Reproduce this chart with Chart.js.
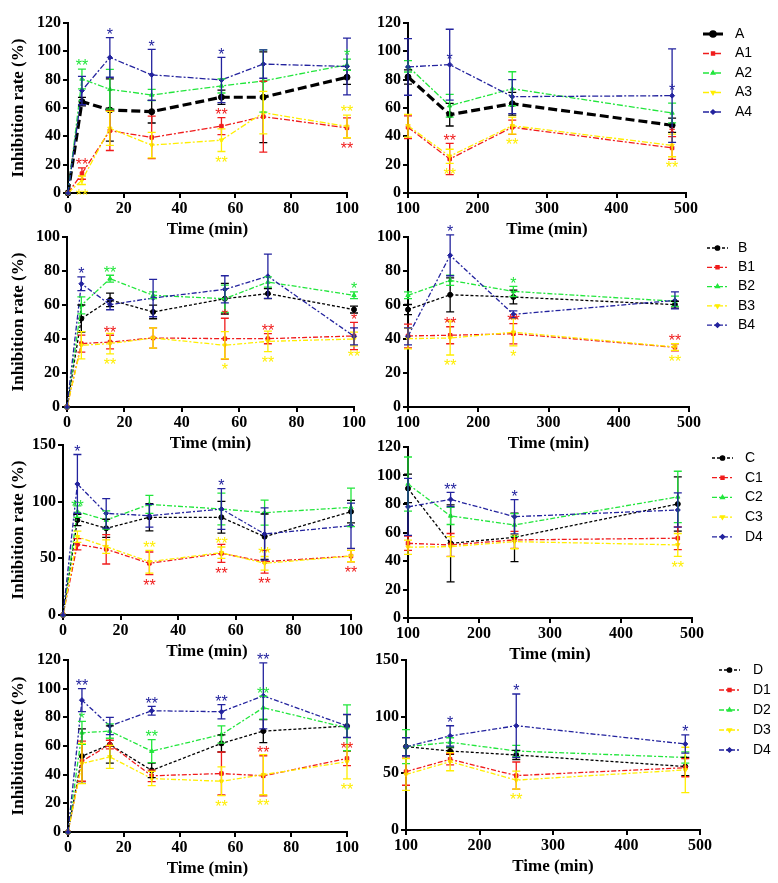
<!DOCTYPE html>
<html><head><meta charset="utf-8">
<script src="https://cdn.jsdelivr.net/npm/chart.js@4"></script>
<style>
html,body{margin:0;padding:0;background:#fff;}
#wrap{position:relative;width:778px;height:883px;overflow:hidden;background:#fff;}
#wrap canvas{position:absolute;}
</style></head><body><div id="wrap"></div>
<script>
// ---------- DATA ----------
const timeLeft = [0, 5, 15, 30, 55, 70, 100];
const timeRight = [100, 160, 250, 480];

const namesA = ['A', 'A1', 'A2', 'A3', 'A4'];
const namesB = ['B', 'B1', 'B2', 'B3', 'B4'];
const namesC = ['C', 'C1', 'C2', 'C3', 'D4'];
const namesD = ['D', 'D1', 'D2', 'D3', 'D4'];

// Panel A (0-100 min)
const aLeftMean = [
  [0, 64.5, 58.6, 57.4, 67.6, 67.6, 81.7],
  [0, 13.7, 44, 39.2, 47.2, 53.9, 46],
  [0, 80.5, 73.2, 69.2, 75.6, 79.1, 90.5],
  [0, 9, 45.6, 33.8, 37.3, 56.7, 47],
  [0, 72.3, 95.7, 83.4, 79.8, 91, 89.3]];
const aLeftSd = [
  [0, 3, 22, 8, 5, 32, 5],
  [0, 4, 14, 15, 6, 25, 7],
  [0, 7, 14, 4, 5, 22, 4],
  [0, 3, 12, 9, 8, 15, 8],
  [0, 10, 14, 18, 16, 10, 20]];
const aLeftSig = [
  ['', '', '', '', '', '', ''],
  ['', '^**', '', '', '^**', '', 'v**'],
  ['', '^**', '', '', '', '', '^*'],
  ['', 'v**', '', '', 'v**', '', '^**'],
  ['', '', '^*', '^*', '^*', '', '']];
// Panel A (100-480 min)
const aRightMean = [
  [81.9, 55.3, 63, 47.8],
  [46.4, 24, 46.4, 31.8],
  [89.4, 61.6, 73.6, 56.5],
  [47.5, 25.9, 47.5, 33.6],
  [89, 90.6, 68, 68.7]];
const aRightSd = [
  [5, 8, 8, 5],
  [8, 11, 5, 8],
  [4, 8, 12, 7],
  [8, 5, 6, 8],
  [20, 25, 12, 33]];
const aRightSig = [
  ['', '', '', ''],
  ['', '^**', '', '^*'],
  ['', '', '', ''],
  ['', 'v**', 'v**', 'v**'],
  ['', '=*', '', '=*']];

// Panel B
const bLeftMean = [
  [0, 52, 63, 55.9, 63.7, 66.7, 57.3],
  [0, 37.3, 38.2, 40.6, 40.2, 40.2, 41.8],
  [0, 59.8, 75.5, 65.7, 63.7, 73.5, 65.7],
  [0, 36.3, 37.3, 40.6, 36.3, 38.6, 40],
  [0, 72.5, 60.2, 64.1, 69.2, 76.9, 41.6]];
const bLeftSd = [
  [0, 8, 4, 4, 9, 3, 2],
  [0, 5, 4, 6, 12, 3, 8],
  [0, 5, 2, 2, 8, 3, 2],
  [0, 8, 6, 6, 8, 6, 4],
  [0, 4, 3, 11, 8, 13, 5]];
const bLeftSig = [
  ['', '', '', '', '', '', ''],
  ['', '', '^**', '', '^*', '^**', '^*'],
  ['', '', '^**', '', '', '', '^*'],
  ['', '', 'v**', '', 'v*', 'v**', 'v**'],
  ['', '^*', '', '', '', '', '']];
const bRightMean = [
  [57.3, 66, 64.7, 60.2],
  [41.8, 42.2, 43.1, 35.1],
  [65.7, 74.5, 68, 62.2],
  [40.2, 40.6, 44, 35.3],
  [41.6, 89.2, 54.5, 62.7]];
const bRightSd = [
  [3, 10, 4, 2],
  [7, 5, 6, 2],
  [2, 3, 3, 3],
  [6, 10, 8, 2],
  [5, 12, 2, 5]];
const bRightSig = [
  ['', '', '', ''],
  ['', '^**', '^**', '^**'],
  ['', '', '^*', ''],
  ['', 'v**', 'v*', 'v**'],
  ['', '^*', '', '']];

// Panel C
const cLeftMean = [
  [0, 83.8, 76.5, 86.2, 86.2, 69.1, 91.2],
  [0, 62.4, 58, 45.6, 54.4, 47, 52],
  [0, 91.2, 83.8, 97.6, 93.5, 90.3, 95],
  [0, 69, 60.3, 47, 55, 45.6, 52],
  [0, 115.6, 89.7, 87.6, 93.5, 71.5, 78.8]];
const cLeftSd = [
  [0, 5, 8, 12, 14, 20, 10],
  [0, 5, 13, 10, 8, 10, 5],
  [0, 5, 8, 8, 14, 11, 17],
  [0, 5, 6, 10, 5, 6, 5],
  [0, 26, 13, 10, 18, 23, 20]];
const cLeftSig = [
  ['', '', '', '', '', '', ''],
  ['', '', '', 'v**', 'v**', 'v**', 'v**'],
  ['', '=**', '', '', '', '', ''],
  ['', '', '', '^**', '^**', '^**', ''],
  ['', '^*', '', '', '^*', '', '']];
const cRightMean = [
  [90.9, 52.4, 56.6, 80],
  [52.4, 51.3, 54.8, 56],
  [94, 71.6, 65.3, 85],
  [49.7, 50.1, 53.6, 51.3],
  [78, 83.2, 71.1, 75.8]];
const cRightSd = [
  [10, 27, 17, 19],
  [5, 8, 6, 8],
  [19, 6, 8, 18],
  [5, 7, 5, 8],
  [20, 5, 12, 12]];
const cRightSig = [
  ['', '', '', ''],
  ['', '', '', ''],
  ['', '', '', ''],
  ['', '', '', 'v**'],
  ['', '^**', '^*', '']];

// Panel D
const dLeftMean = [
  [0, 52.9, 61, 43, 61.8, 70.4, 73.9],
  [0, 49.4, 61, 39.2, 40.8, 39.2, 51.3],
  [0, 69.2, 70.4, 56.4, 68, 86.7, 72.7],
  [0, 47.8, 52.4, 37.3, 35.4, 40, 49],
  [0, 92, 74, 84.6, 83.9, 95, 74]];
const dLeftSd = [
  [0, 19, 13, 5, 6, 8, 8],
  [0, 14, 3, 4, 15, 14, 5],
  [0, 8, 5, 8, 6, 8, 16],
  [0, 14, 8, 5, 10, 14, 12],
  [0, 8, 6, 3, 5, 23, 8]];
const dLeftSig = [
  ['', '', '', '', '', '', ''],
  ['', '', '', '', '', '^**', '^**'],
  ['', '^*', '', '^**', '', '^**', ''],
  ['', '', '', '', 'v**', 'v**', 'v**'],
  ['', '^**', '', '^**', '^**', '^**', '']];
const dRightMean = [
  [73.5, 69.7, 66.2, 56],
  [51.5, 62.4, 48, 55],
  [73.5, 77.4, 69.7, 64],
  [49, 60.3, 44, 53],
  [73.5, 83, 92, 75.9]];
const dRightSd = [
  [8, 3, 4, 8],
  [12, 5, 12, 8],
  [15, 4, 5, 5],
  [14, 8, 8, 20],
  [8, 9, 28, 8]];
const dRightSig = [
  ['', '', '', ''],
  ['', '', '', ''],
  ['', '', '', ''],
  ['', '', 'v**', ''],
  ['', '^*', '^*', '^*']];

// ---------- STYLE / LAYOUT ----------
const colors = ['#000000', '#f01c1c', '#22e63c', '#ffee00', '#23239e'];
const pStyles = ['circle', 'rect', 'triangle', 'triangle', 'rectRot'];
const pRot = [0, 0, 0, 180, 0];
const serif = '"Liberation Serif", "Times New Roman", serif';
const sans = '"Liberation Sans", Arial, sans-serif';

const panels = [
  {names: namesA, t: timeLeft, mean: aLeftMean, sd: aLeftSd, sig: aLeftSig, area: [68, 23, 347, 193], xr: [0, 100, 20], yr: [0, 120, 20], left: true, row: 0},
  {names: namesA, t: timeRight, mean: aRightMean, sd: aRightSd, sig: aRightSig, area: [408, 23, 686, 193], xr: [100, 500, 100], yr: [0, 120, 20], left: false, row: 0, legend: {x0: 703, x1: 723, tx: 735, y0: 34, dy: 19.5}},
  {names: namesB, t: timeLeft, mean: bLeftMean, sd: bLeftSd, sig: bLeftSig, area: [67, 237, 354, 407], xr: [0, 100, 20], yr: [0, 100, 20], left: true, row: 1},
  {names: namesB, t: timeRight, mean: bRightMean, sd: bRightSd, sig: bRightSig, area: [408, 237, 689, 407], xr: [100, 500, 100], yr: [0, 100, 20], left: false, row: 1, legend: {x0: 707, x1: 728, tx: 738, y0: 248, dy: 19.3}},
  {names: namesC, t: timeLeft, mean: cLeftMean, sd: cLeftSd, sig: cLeftSig, area: [63, 445, 351, 615], xr: [0, 100, 20], yr: [0, 150, 50], left: true, row: 2},
  {names: namesC, t: timeRight, mean: cRightMean, sd: cRightSd, sig: cRightSig, area: [408, 447, 692, 618], xr: [100, 500, 100], yr: [0, 120, 20], left: false, row: 2, legend: {x0: 712, x1: 733, tx: 745, y0: 458, dy: 19.7}},
  {names: namesD, t: timeLeft, mean: dLeftMean, sd: dLeftSd, sig: dLeftSig, area: [68, 660, 347, 832], xr: [0, 100, 20], yr: [0, 120, 20], left: true, row: 3},
  {names: namesD, t: timeRight, mean: dRightMean, sd: dRightSd, sig: dRightSig, area: [406, 660, 700, 830], xr: [100, 500, 100], yr: [0, 150, 50], left: false, row: 3, legend: {x0: 719, x1: 740, tx: 753, y0: 670, dy: 20}}
];

function dashFor(row, i) {
  if (row === 0) return i === 0 ? [9, 4] : [6, 2, 2, 2];
  return i === 0 ? [3, 2] : [5, 2, 2, 2];
}
function widthFor(row, i) { return (row === 0 && i === 0) ? 3.2 : 1.3; }

// ---------- PLUGINS ----------
const errorBarPlugin = {
  id: 'errbars',
  afterDatasetsDraw(chart) {
    const ctx = chart.ctx, xs = chart.scales.x, ys = chart.scales.y;
    chart.data.datasets.forEach((ds) => {
      ctx.save();
      ctx.strokeStyle = ds.borderColor;
      ctx.lineWidth = 1.3;
      ctx.setLineDash([]);
      ds.data.forEach((pt, j) => {
        const s = ds.sd[j];
        if (!s) return;
        const px = xs.getPixelForValue(pt.x);
        const yt = ys.getPixelForValue(pt.y + s), yb = ys.getPixelForValue(pt.y - s);
        ctx.beginPath();
        ctx.moveTo(px, yt); ctx.lineTo(px, yb);
        ctx.moveTo(px - 4, yt); ctx.lineTo(px + 4, yt);
        ctx.moveTo(px - 4, yb); ctx.lineTo(px + 4, yb);
        ctx.stroke();
      });
      ctx.restore();
    });
  }
};

const sigPlugin = {
  id: 'sigmarks',
  afterDatasetsDraw(chart) {
    const ctx = chart.ctx, xs = chart.scales.x, ys = chart.scales.y;
    const fs = 16;
    chart.data.datasets.forEach((ds) => {
      ctx.save();
      ctx.fillStyle = ds.borderColor;
      ctx.font = fs + 'px ' + sans;
      ctx.textAlign = 'center';
      ctx.textBaseline = 'alphabetic';
      ds.data.forEach((pt, j) => {
        const code = ds.sig[j];
        if (!code) return;
        const dir = code[0], txt = code.slice(1);
        const s = ds.sd[j] || 0;
        const px = xs.getPixelForValue(pt.x);
        let yc;
        if (dir === '^') yc = ys.getPixelForValue(pt.y + s) - 7;
        else if (dir === 'v') yc = ys.getPixelForValue(pt.y - s) + 7;
        else yc = ys.getPixelForValue(pt.y) - 9;
        ctx.fillText(txt, px, yc + 0.58 * fs);
      });
      ctx.restore();
    });
  }
};

const legendPlugin = {
  id: 'sideLegend',
  afterDraw(chart, args, opts) {
    const lg = opts && opts.pos;
    if (!lg) return;
    const ctx = chart.ctx;
    const offX = opts.offX, offY = opts.offY;
    chart.data.datasets.forEach((ds, i) => {
      const y = lg.y0 + i * lg.dy - offY;
      const x0 = lg.x0 - offX, x1 = lg.x1 - offX;
      ctx.save();
      ctx.strokeStyle = ds.borderColor;
      ctx.lineWidth = ds.borderWidth;
      ctx.setLineDash(ds.borderDash);
      ctx.beginPath(); ctx.moveTo(x0, y); ctx.lineTo(x1, y); ctx.stroke();
      ctx.setLineDash([]);
      ctx.fillStyle = ds.borderColor;
      Chart.helpers.drawPoint(ctx, {pointStyle: ds.pointStyle, rotation: ds.pointRotation, radius: 2.2, borderWidth: 1}, (x0 + x1) / 2, y);
      ctx.fillStyle = '#000';
      ctx.font = '14px ' + sans;
      ctx.textAlign = 'left';
      ctx.textBaseline = 'middle';
      ctx.fillText(ds.label, lg.tx - offX, y);
      ctx.restore();
    });
  }
};

// ---------- BUILD ----------
const wrap = document.getElementById('wrap');
panels.forEach((p) => {
  const yW = p.left ? p.area[0] : 40;
  const padTop = 12, xH = 47;
  const cLeft = p.area[0] - yW;
  const cTop = p.area[1] - padTop;
  const cRight = p.left ? p.area[2] + 16 : 778;
  const padRight = cRight - p.area[2];
  const w = cRight - cLeft, h = p.area[3] + xH - cTop;
  const cv = document.createElement('canvas');
  cv.width = w; cv.height = h;
  cv.style.left = cLeft + 'px'; cv.style.top = cTop + 'px';
  cv.style.width = w + 'px'; cv.style.height = h + 'px';
  wrap.appendChild(cv);

  const datasets = p.names.map((nm, i) => ({
    label: nm,
    data: p.t.map((tv, j) => ({x: tv, y: p.mean[i][j]})),
    sd: p.sd[i],
    sig: p.sig[i],
    borderColor: colors[i],
    backgroundColor: colors[i],
    borderWidth: widthFor(p.row, i),
    borderDash: dashFor(p.row, i),
    pointStyle: pStyles[i],
    pointRotation: pRot[i],
    pointRadius: i === 0 && p.row === 0 ? 3 : 2.5,
    pointBorderWidth: 1,
    pointBackgroundColor: colors[i],
    tension: 0,
    clip: false,
    order: 5 - i
  }));

  const tickFont = {family: serif, size: 16, weight: 'bold'};
  const titleFont = {family: serif, size: 17, weight: 'bold'};
  new Chart(cv, {
    type: 'line',
    data: {datasets},
    options: {
      responsive: false,
      animation: false,
      devicePixelRatio: 1,
      layout: {padding: {top: padTop, right: padRight, left: 0, bottom: 0}},
      plugins: {
        legend: {display: false},
        tooltip: {enabled: false},
        sideLegend: {pos: p.legend || null, offX: cLeft, offY: cTop}
      },
      scales: {
        x: {
          type: 'linear', min: p.xr[0], max: p.xr[1],
          ticks: {stepSize: p.xr[2], font: tickFont, color: '#000', padding: 1, maxRotation: 0},
          grid: {display: true, drawOnChartArea: false, drawTicks: true, tickLength: 5, color: '#000', lineWidth: 2},
          border: {display: true, color: '#000', width: 2},
          title: {display: true, text: 'Time (min)', font: titleFont, color: '#000', padding: {top: 0, bottom: 0}},
          afterFit(s) { s.height = xH; }
        },
        y: {
          type: 'linear', min: p.yr[0], max: p.yr[1],
          ticks: {stepSize: p.yr[2], font: tickFont, color: '#000', padding: 2},
          grid: {display: true, drawOnChartArea: false, drawTicks: true, tickLength: 5, color: '#000', lineWidth: 2},
          border: {display: true, color: '#000', width: 2},
          title: {display: p.left, text: 'Inhibition rate (%)', font: titleFont, color: '#000', padding: {top: 8, bottom: 0}},
          afterFit(s) { s.width = yW; }
        }
      }
    },
    plugins: [errorBarPlugin, sigPlugin, legendPlugin]
  });
});
</script>
</body></html>
